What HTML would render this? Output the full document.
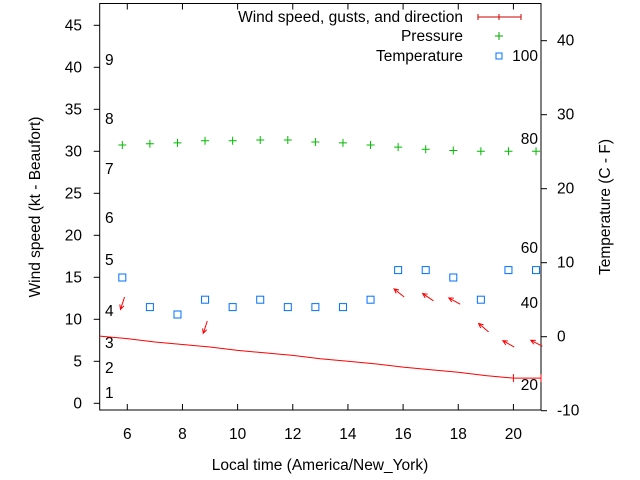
<!DOCTYPE html>
<html><head><meta charset="utf-8"><style>
body{margin:0;background:#fff}
svg{display:block;font-family:"Liberation Sans",sans-serif;font-size:15.5px}
</style></head><body>
<svg id="c" width="640" height="480">
<g id="axes"></g><g id="marks"></g>
</svg>
<script>
const hours=[5,6,7,8,9,10,11,12,13,14,15,16,17,18,19,20,21];
const windKt=[8,7.7,7.3,7,6.7,6.3,6,5.7,5.3,5,4.7,4.3,4,3.7,3.3,3,3];
const gustHours=[20,21];
const obsHours=[5.82,6.82,7.82,8.82,9.82,10.82,11.82,12.82,13.82,14.82,15.82,16.82,17.82,18.82,19.82,20.82];
const tempC=[8,4,3,5,4,5,4,4,4,5,9,9,8,5,9,9];
const pressure=[30.75,30.9,31.0,31.25,31.25,31.35,31.35,31.1,31.0,30.75,30.5,30.25,30.1,30.0,30.0,30.0];
const arrowHours=[5.9,8.9,16.04,17.1,18.07,19.1,20.03,21.05];
const arrowKt=[12.65,9.8,12.65,12.2,11.8,8.5,6.7,6.8];
const arrowBearing=[198,198,309,304,299,310,299,297];
const xTicks=[6,8,10,12,14,16,18,20];
const yTicks=[0,5,10,15,20,25,30,35,40,45];
const y2Ticks=[-10,0,10,20,30,40];
const beaufort=[["1",393],["2",368],["3",343],["4",311],["5",260],["6",218],["7",169],["8",119],["9",60]];
const fahr=[["20",385],["40",303],["60",248],["80",139],["100",56]];

const L=99.7,R=541,T=3.5,B=410;
const X=h=>L+(h-5)*(R-L)/16;
const Y=v=>403.3-v*8.4;
const Y2=c=>336.7-c*7.4;
const NS="http://www.w3.org/2000/svg";
function mk(p,t,a,txt){const e=document.createElementNS(NS,t);for(const k in a)e.setAttribute(k,a[k]);if(txt!==undefined)e.textContent=txt;p.appendChild(e);return e;}
const ax=document.getElementById('axes'),mg=document.getElementById('marks');

let fr=mk(ax,'rect',{x:L,y:T,width:R-L,height:B-T,fill:'none',stroke:'#000'});


xTicks.forEach(t=>{
 mk(ax,'line',{x1:X(t),x2:X(t),y1:B,y2:B-6,stroke:'#000'});
 mk(ax,'line',{x1:X(t),x2:X(t),y1:T,y2:T+6,stroke:'#000'});
 let e=mk(ax,'text',{x:X(t),y:439,'text-anchor':'middle'},t);
 
 
});
yTicks.forEach(t=>{
 mk(ax,'line',{x1:L,x2:L-6,y1:Y(t),y2:Y(t),stroke:'#000'});
 let e=mk(ax,'text',{x:82,y:Y(t)+5,'text-anchor':'end'},t);
 
 
});
y2Ticks.forEach(t=>{
 mk(ax,'line',{x1:R,x2:R+6,y1:Y2(t),y2:Y2(t),stroke:'#000'});
 let e=mk(ax,'text',{x:557,y:Y2(t)+5,'text-anchor':'start'},t);
 
 
});
beaufort.forEach(([s,y])=>{let e=mk(ax,'text',{x:105,y:y+5},s);
 
 });
fahr.forEach(([s,y])=>{let e=mk(ax,'text',{x:538,y:y+5,'text-anchor':'end'},s);
 
 });

let t1=mk(ax,'text',{x:320,y:470,'text-anchor':'middle'},'Local time (America/New_York)');


let t2=mk(ax,'text',{x:0,y:0,'text-anchor':'middle',transform:'translate(40,207) rotate(-90)'},'Wind speed (kt - Beaufort)');


let t3=mk(ax,'text',{x:0,y:0,'text-anchor':'middle',transform:'translate(610,207) rotate(-90)'},'Temperature (C - F)');



// legend
[['Wind speed, gusts, and direction',17],['Pressure',36],['Temperature',56]].forEach(([s,y])=>{
 let e=mk(ax,'text',{x:463,y:y+5,'text-anchor':'end'},s);
 
 
});
mk(ax,'line',{x1:478,x2:521,y1:17,y2:17,stroke:'#c00'});
[478,499,521].forEach(x=>mk(ax,'line',{x1:x,x2:x,y1:14,y2:20,stroke:'#c00'}));
mk(ax,'path',{d:'M495,36h8M499,32v8',stroke:'#0a0'});
mk(ax,'rect',{x:496,y:53,width:6,height:6,fill:'none',stroke:'#0070ff'});

// wind line
let wl=mk(mg,'polyline',{points:hours.map((h,i)=>X(h)+','+Y(windKt[i])).join(' '),fill:'none',stroke:'#f00'});


gustHours.forEach(h=>{const i=hours.indexOf(h);
 let g=mk(mg,'line',{x1:X(h),x2:X(h),y1:Y(windKt[i])-4,y2:Y(windKt[i])+4,stroke:'#f00'});
 
 
});
// pressure
obsHours.forEach((h,i)=>{
 let p=mk(mg,'path',{d:`M${X(h)-4},${Y(pressure[i])}h8M${X(h)},${Y(pressure[i])-4}v8`,stroke:'#0b0'});
 
 
});
// temperature
obsHours.forEach((h,i)=>{
 let r=mk(mg,'rect',{x:X(h)-3.5,y:Y2(tempC[i])-3.5,width:7,height:7,fill:'none',stroke:'#0070ff'});
 
 
});
// arrows
arrowHours.forEach((h,i)=>{
 const x=X(h),y=Y(arrowKt[i]),a=arrowBearing[i]*Math.PI/180,len=13;
 const hx=x+len*Math.sin(a),hy=y-len*Math.cos(a);
 const b1=a+Math.PI-0.45,b2=a+Math.PI+0.45;
 let g=mk(mg,'path',{d:`M${x},${y}L${hx},${hy}M${hx+5*Math.sin(b1)},${hy-5*Math.cos(b1)}L${hx},${hy}L${hx+5*Math.sin(b2)},${hy-5*Math.cos(b2)}`,stroke:'#f00',fill:'none'});
 
 
});
</script>
</body></html>
